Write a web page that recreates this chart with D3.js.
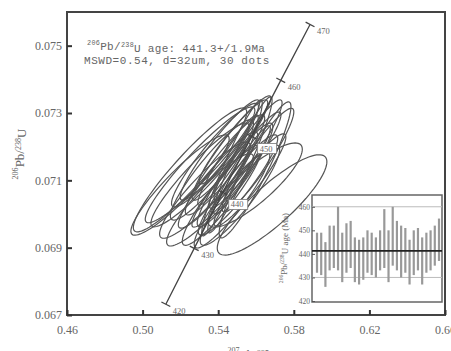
<!DOCTYPE html>
<html>
<head>
<meta charset="utf-8">
<script src="https://cdn.jsdelivr.net/npm/d3@7"></script>
<style>
  body { margin: 0; background: #fff; }
  text { fill: #666; }
</style>
</head>
<body>
<svg id="chart" width="451" height="351"></svg>
<script>
// concordia reference points (age in Ma, 207Pb/235U, 206Pb/238U)
const concAges = [420, 430, 440, 450, 460, 470];
const concX = [0.5123, 0.5273, 0.5424, 0.5577, 0.5731, 0.5886];
const concY = [0.06732, 0.06898, 0.07064, 0.07230, 0.07397, 0.07563];

// spot ellipses: 207Pb/235U, err, 206Pb/238U, err, rho
const ellX    = [0.5251, 0.5304, 0.5198, 0.5515, 0.5473, 0.5595, 0.5685, 0.5595, 0.5436, 0.5489,
                 0.5399, 0.5542, 0.5462, 0.5367, 0.5505, 0.5420, 0.5568, 0.5452, 0.5526, 0.5383,
                 0.5330, 0.5489, 0.5558, 0.5441, 0.5473, 0.5409, 0.5610, 0.5357, 0.5515, 0.5304];
const ellXErr = [0.0300, 0.0290, 0.0260, 0.0170, 0.0160, 0.0190, 0.0290, 0.0250, 0.0210, 0.0200,
                 0.0210, 0.0190, 0.0200, 0.0220, 0.0210, 0.0210, 0.0190, 0.0160, 0.0150, 0.0230,
                 0.0240, 0.0190, 0.0180, 0.0180, 0.0200, 0.0210, 0.0190, 0.0230, 0.0210, 0.0260];
const ellY    = [0.07131, 0.07146, 0.07086, 0.07146, 0.07137, 0.07131, 0.07027, 0.07086, 0.07146, 0.07116,
                 0.07101, 0.07160, 0.07190, 0.07131, 0.07086, 0.07056, 0.07101, 0.07160, 0.07131, 0.07175,
                 0.07071, 0.07220, 0.07190, 0.07086, 0.07042, 0.07190, 0.07160, 0.07042, 0.07056, 0.07116];
const ellYErr = [0.00184, 0.00172, 0.00149, 0.00202, 0.00202, 0.00202, 0.00149, 0.00125, 0.00149, 0.00154,
                 0.00143, 0.00143, 0.00149, 0.00149, 0.00149, 0.00149, 0.00137, 0.00134, 0.00131, 0.00154,
                 0.00143, 0.00131, 0.00149, 0.00125, 0.00143, 0.00149, 0.00154, 0.00137, 0.00149, 0.00154];
const ellRho  = [0.93, 0.94, 0.92, 0.95, 0.95, 0.93, 0.86, 0.85, 0.93, 0.93,
                 0.93, 0.94, 0.94, 0.92, 0.93, 0.92, 0.93, 0.95, 0.95, 0.93,
                 0.91, 0.95, 0.94, 0.94, 0.92, 0.94, 0.93, 0.91, 0.91, 0.93];

// inset: 206Pb/238U ages and 2s errors (Ma)
const spotAge = [440.5, 440, 435.5, 442.5, 443, 446.5, 438.5, 442.5, 444, 437.5,
                 436.5, 438, 441, 440, 438.5, 441.5, 446.5, 439, 447.5, 443.5,
                 441, 441.5, 436.5, 440.5, 442, 437, 440.5, 441.5, 443.5, 446];
const spotErr = [8.5, 9, 9.5, 9.5, 9, 13.5, 10.5, 10.5, 10, 9.5,
                 9.5, 9, 9, 9, 8.5, 8.5, 12.5, 11, 12.5, 10.5,
                 11, 9.5, 9.5, 9.5, 9, 10, 8.5, 8.5, 8.5, 9];
const meanAge = 441.3;

const xTicks = [0.46, 0.50, 0.54, 0.58, 0.62, 0.66];
const yTicks = [0.067, 0.069, 0.071, 0.073, 0.075];
const insetTicks = [420, 430, 440, 450, 460];
const insetGrid = [430, 460];

const svg = d3.select("#chart");
const serif = "'Liberation Serif', 'DejaVu Serif', serif";
const mono = "'Liberation Mono', 'DejaVu Sans Mono', monospace";

const x = d3.scaleLinear().domain([0.46, 0.66]).range([67, 445]);
const y = d3.scaleLinear().domain([0.067, 0.076]).range([315, 12]);

// isotope label with superscript mass numbers
function isoText(sel, parts) {
  parts.forEach(p => {
    if (p[1]) sel.append("tspan").attr("font-size", "0.62em").attr("dy", "-0.45em").text(p[0]);
    else sel.append("tspan").attr("dy", p[2] ? "0.45em" : 0).text(p[0]);
  });
}

// ellipses
const ellLine = d3.line().curve(d3.curveLinearClosed);
svg.append("g")
  .selectAll("path")
  .data(d3.range(ellX.length))
  .join("path")
  .attr("d", i => {
    const r = ellRho[i], s = Math.sqrt(1 - r * r);
    const pts = d3.range(0, 90).map(k => {
      const t = k / 90 * 2 * Math.PI;
      return [x(ellX[i] + ellXErr[i] * Math.cos(t)),
              y(ellY[i] + ellYErr[i] * (r * Math.cos(t) + s * Math.sin(t)))];
    });
    return ellLine(pts);
  })
  .attr("fill", "none")
  .attr("stroke", "#555")
  .attr("stroke-width", 1.2);

// concordia
const concPts = concAges.map((a, i) => [x(concX[i]), y(concY[i])]);
svg.append("path")
  .attr("d", d3.line().curve(d3.curveNatural)(concPts))
  .attr("fill", "none")
  .attr("stroke", "#444")
  .attr("stroke-width", 1.3);

const concG = svg.append("g");
concPts.forEach((p, i) => {
  const a = concPts[Math.max(i - 1, 0)], b = concPts[Math.min(i + 1, concPts.length - 1)];
  const dx = b[0] - a[0], dy = b[1] - a[1], len = Math.hypot(dx, dy);
  const nx = -dy / len * 5, ny = dx / len * 5;
  concG.append("line")
    .attr("x1", p[0] - nx).attr("y1", p[1] - ny)
    .attr("x2", p[0] + nx).attr("y2", p[1] + ny)
    .attr("stroke", "#444").attr("stroke-width", 1.3);
  const boxed = concAges[i] === 440 || concAges[i] === 450;
  if (boxed) {
    concG.append("rect")
      .attr("x", p[0] + 6).attr("y", p[1] + 7)
      .attr("width", 19).attr("height", 10)
      .attr("fill", "#fff").attr("stroke", "#777").attr("stroke-width", 0.8);
  }
  concG.append("text")
    .attr("x", p[0] + (boxed ? 8 : 7))
    .attr("y", p[1] + (boxed ? 15 : 10))
    .attr("font-family", serif)
    .attr("font-size", 8.5)
    .text(concAges[i]);
});

// frame and axes
svg.append("rect")
  .attr("x", 67).attr("y", 12).attr("width", 378).attr("height", 303)
  .attr("fill", "none").attr("stroke", "#444").attr("stroke-width", 2);

const yAxis = svg.append("g")
  .attr("transform", "translate(67,0)")
  .call(d3.axisLeft(y).tickValues(yTicks).tickSize(-5).tickPadding(5).tickFormat(d3.format(".3f")));
const xAxis = svg.append("g")
  .attr("transform", "translate(0,315)")
  .call(d3.axisBottom(x).tickValues(xTicks).tickSize(-5).tickPadding(10).tickFormat(d3.format(".2f")));
[yAxis, xAxis].forEach(g => {
  g.select(".domain").remove();
  g.selectAll(".tick line").attr("stroke", "#333").attr("stroke-width", 2);
  g.selectAll(".tick text").attr("font-family", serif).attr("font-size", 12).attr("fill", "#666");
});

// axis titles
const yTitle = svg.append("text")
  .attr("transform", "translate(22,154) rotate(-90)")
  .attr("text-anchor", "middle")
  .attr("font-family", serif).attr("font-size", 13);
isoText(yTitle, [["206", true], ["Pb/", false, true], ["238", true], ["U", false, true]]);

const xTitle = svg.append("text")
  .attr("x", 253).attr("y", 357)
  .attr("text-anchor", "middle")
  .attr("font-family", serif).attr("font-size", 13);
isoText(xTitle, [["207", true], ["Pb/", false, true], ["235", true], ["U", false, true]]);

// annotation
const note1 = svg.append("text")
  .attr("x", 87).attr("y", 48)
  .attr("font-family", mono).attr("font-size", 11).attr("letter-spacing", 0.3);
isoText(note1, [["206", true], ["Pb/", false, true], ["238", true], ["U age: 441.3+/1.9Ma", false, true]]);
svg.append("text")
  .attr("x", 84).attr("y", 64)
  .attr("font-family", mono).attr("font-size", 11).attr("letter-spacing", 0.55)
  .text("MSWD=0.54, d=32um, 30 dots");

// inset
const inset = svg.append("g");
inset.append("rect")
  .attr("x", 312).attr("y", 195).attr("width", 130).attr("height", 107)
  .attr("fill", "#fff").attr("stroke", "#666").attr("stroke-width", 1.5);

const iy = d3.scaleLinear().domain([420, 465]).range([301, 195]);
const ix = d3.scalePoint().domain(d3.range(spotAge.length)).range([317, 439]);

inset.selectAll(".grid")
  .data(insetGrid)
  .join("line")
  .attr("x1", 312).attr("x2", 442)
  .attr("y1", d => iy(d)).attr("y2", d => iy(d))
  .attr("stroke", "#bbb").attr("stroke-width", 1);

inset.selectAll(".bar")
  .data(d3.range(spotAge.length))
  .join("line")
  .attr("x1", i => ix(i)).attr("x2", i => ix(i))
  .attr("y1", i => iy(spotAge[i] - spotErr[i]))
  .attr("y2", i => iy(spotAge[i] + spotErr[i]))
  .attr("stroke", "#999").attr("stroke-width", 2.2);

inset.append("line")
  .attr("x1", 312).attr("x2", 442)
  .attr("y1", iy(meanAge)).attr("y2", iy(meanAge))
  .attr("stroke", "#222").attr("stroke-width", 1.8);

const iAxis = inset.append("g")
  .attr("transform", "translate(312,0)")
  .call(d3.axisLeft(iy).tickValues(insetTicks).tickSize(-3).tickPadding(2));
iAxis.select(".domain").remove();
iAxis.selectAll(".tick line").attr("stroke", "#555");
iAxis.selectAll(".tick text").attr("font-family", serif).attr("font-size", 7.5).attr("fill", "#777");

const iTitle = inset.append("text")
  .attr("transform", "translate(285,248) rotate(-90)")
  .attr("text-anchor", "middle")
  .attr("font-family", serif).attr("font-size", 9);
isoText(iTitle, [["206", true], ["Pb/", false, true], ["238", true], ["U age (Ma)", false, true]]);
</script>
</body>
</html>
